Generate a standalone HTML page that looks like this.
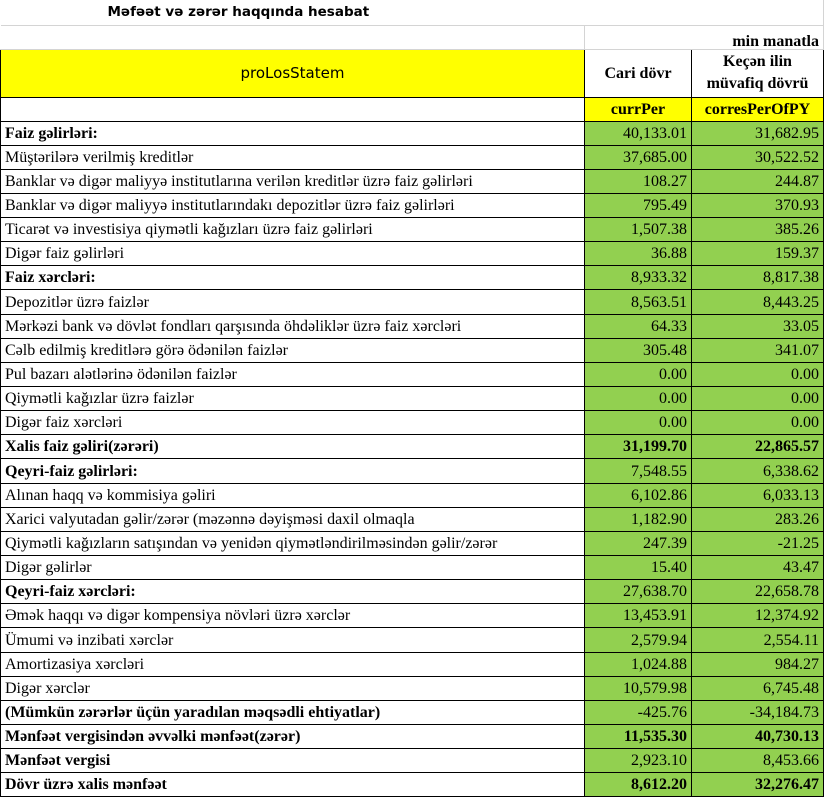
<!DOCTYPE html>
<html><head><meta charset="utf-8"><style>
body{margin:0;background:#fff;width:825px;height:799px;overflow:hidden;position:relative}
.t{position:absolute;left:0;top:0;border-collapse:collapse;table-layout:fixed;font-family:"Liberation Serif",serif;font-size:16px;color:#000}
.t td{padding:0 4px;border:1px solid #000;white-space:nowrap;overflow:hidden;line-height:15px}
.t tr{height:24.15px}
.g td{border:1px solid #d4d4d4}
.n{background:#92D050;text-align:right}
.b{font-weight:bold}
.y{background:#ffff00}
</style></head><body>
<table class="t">
<colgroup><col style="width:584px"><col style="width:107px"><col style="width:132px"></colgroup>
<tr class="g" style="height:25px"><td colspan="3" style="border-top:none;border-left:none;padding-left:107px;font-family:'DejaVu Sans',sans-serif;font-weight:bold;font-size:13.5px">Məfəət və zərər haqqında hesabat</td></tr>
<tr class="g" style="height:24px"><td style="border-left:none"></td><td colspan="2" class="b" style="text-align:right;vertical-align:bottom">min manatla</td></tr>
<tr style="height:48px"><td class="y" style="text-align:center;font-family:'DejaVu Sans',sans-serif;font-size:15px">proLosStatem</td><td class="b" style="text-align:center;font-size:16px">Cari dövr</td><td class="b" style="text-align:center;font-size:16px;line-height:22px">Keçən ilin<br>müvafiq dövrü</td></tr>
<tr style="height:24px"><td></td><td class="y b" style="text-align:center;font-size:16px">currPer</td><td class="y b" style="text-align:center;font-size:16px">corresPerOfPY</td></tr>
<tr class="b"><td>Faiz gəlirləri:</td><td class="n" style="font-weight:normal">40,133.01</td><td class="n" style="font-weight:normal">31,682.95</td></tr>
<tr><td>Müştərilərə verilmiş kreditlər</td><td class="n">37,685.00</td><td class="n">30,522.52</td></tr>
<tr><td>Banklar və digər maliyyə institutlarına verilən kreditlər üzrə faiz gəlirləri</td><td class="n">108.27</td><td class="n">244.87</td></tr>
<tr><td>Banklar və digər maliyyə institutlarındakı depozitlər üzrə faiz gəlirləri</td><td class="n">795.49</td><td class="n">370.93</td></tr>
<tr><td>Ticarət və investisiya qiymətli kağızları üzrə faiz gəlirləri</td><td class="n">1,507.38</td><td class="n">385.26</td></tr>
<tr><td>Digər faiz gəlirləri</td><td class="n">36.88</td><td class="n">159.37</td></tr>
<tr class="b"><td>Faiz xərcləri:</td><td class="n" style="font-weight:normal">8,933.32</td><td class="n" style="font-weight:normal">8,817.38</td></tr>
<tr><td>Depozitlər üzrə faizlər</td><td class="n">8,563.51</td><td class="n">8,443.25</td></tr>
<tr><td>Mərkəzi bank və dövlət fondları qarşısında öhdəliklər üzrə faiz xərcləri</td><td class="n">64.33</td><td class="n">33.05</td></tr>
<tr><td>Cəlb edilmiş kreditlərə görə ödənilən faizlər</td><td class="n">305.48</td><td class="n">341.07</td></tr>
<tr><td>Pul bazarı alətlərinə ödənilən faizlər</td><td class="n">0.00</td><td class="n">0.00</td></tr>
<tr><td>Qiymətli kağızlar üzrə faizlər</td><td class="n">0.00</td><td class="n">0.00</td></tr>
<tr><td>Digər faiz xərcləri</td><td class="n">0.00</td><td class="n">0.00</td></tr>
<tr class="b"><td>Xalis faiz gəliri(zərəri)</td><td class="n">31,199.70</td><td class="n">22,865.57</td></tr>
<tr class="b"><td>Qeyri-faiz gəlirləri:</td><td class="n" style="font-weight:normal">7,548.55</td><td class="n" style="font-weight:normal">6,338.62</td></tr>
<tr><td>Alınan haqq və kommisiya gəliri</td><td class="n">6,102.86</td><td class="n">6,033.13</td></tr>
<tr><td>Xarici valyutadan gəlir/zərər (məzənnə dəyişməsi daxil olmaqla</td><td class="n">1,182.90</td><td class="n">283.26</td></tr>
<tr><td>Qiymətli kağızların satışından və yenidən qiymətləndirilməsindən gəlir/zərər</td><td class="n">247.39</td><td class="n">-21.25</td></tr>
<tr><td>Digər gəlirlər</td><td class="n">15.40</td><td class="n">43.47</td></tr>
<tr class="b"><td>Qeyri-faiz xərcləri:</td><td class="n" style="font-weight:normal">27,638.70</td><td class="n" style="font-weight:normal">22,658.78</td></tr>
<tr><td>Əmək haqqı və digər kompensiya növləri üzrə xərclər</td><td class="n">13,453.91</td><td class="n">12,374.92</td></tr>
<tr><td>Ümumi və inzibati xərclər</td><td class="n">2,579.94</td><td class="n">2,554.11</td></tr>
<tr><td>Amortizasiya xərcləri</td><td class="n">1,024.88</td><td class="n">984.27</td></tr>
<tr><td>Digər xərclər</td><td class="n">10,579.98</td><td class="n">6,745.48</td></tr>
<tr class="b"><td>(Mümkün zərərlər üçün yaradılan məqsədli ehtiyatlar)</td><td class="n" style="font-weight:normal">-425.76</td><td class="n" style="font-weight:normal">-34,184.73</td></tr>
<tr class="b"><td>Mənfəət vergisindən əvvəlki mənfəət(zərər)</td><td class="n">11,535.30</td><td class="n">40,730.13</td></tr>
<tr class="b"><td>Mənfəət vergisi</td><td class="n" style="font-weight:normal">2,923.10</td><td class="n" style="font-weight:normal">8,453.66</td></tr>
<tr class="b"><td>Dövr üzrə xalis mənfəət</td><td class="n">8,612.20</td><td class="n">32,276.47</td></tr>
</table>
</body></html>
